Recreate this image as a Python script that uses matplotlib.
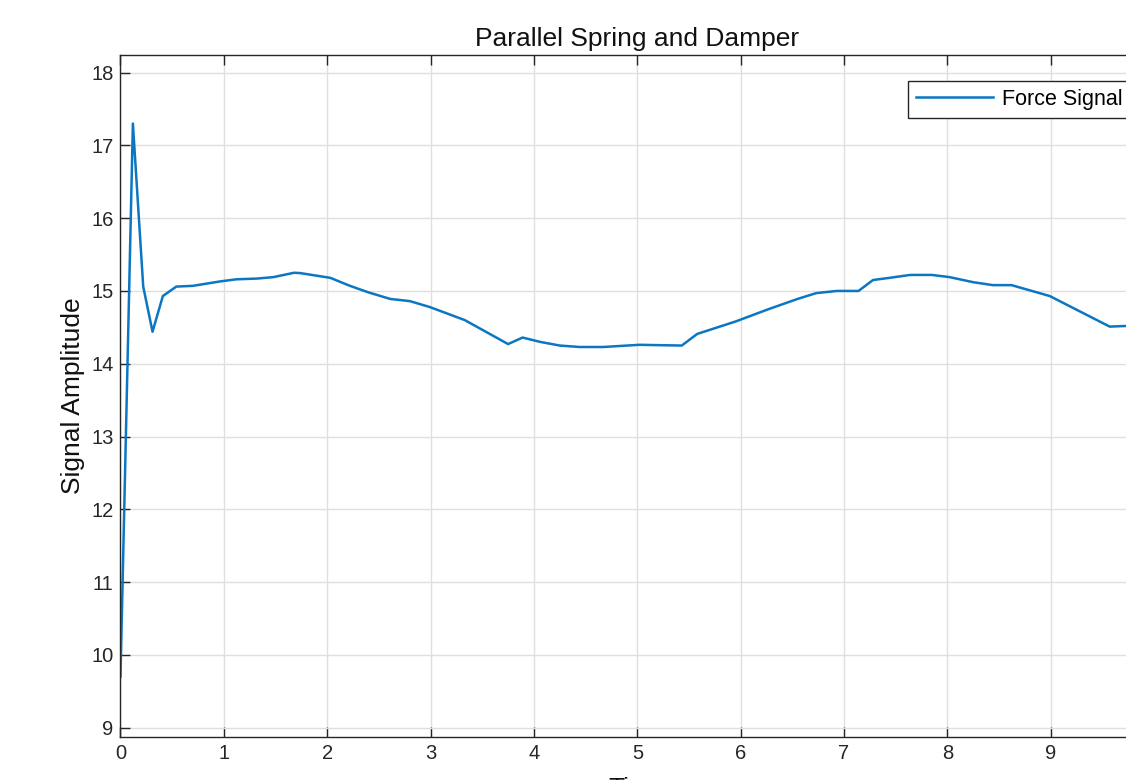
import matplotlib
matplotlib.use("Agg")
import matplotlib.pyplot as plt

# force signal (time, amplitude)
time = [0.0, 0.12, 0.22, 0.31, 0.41, 0.54, 0.70, 0.96, 1.12, 1.32, 1.48,
        1.68, 1.74, 2.03, 2.22, 2.40, 2.61, 2.80, 2.99, 3.33, 3.75, 3.89,
        4.06, 4.25, 4.44, 4.67, 5.02, 5.43, 5.58, 5.95, 6.27, 6.55, 6.73,
        6.93, 7.14, 7.28, 7.44, 7.64, 7.85, 8.02, 8.25, 8.44, 8.62, 8.99,
        9.28, 9.57, 9.75]
force = [9.70, 17.30, 15.06, 14.44, 14.93, 15.06, 15.07, 15.13, 15.16, 15.17, 15.19,
         15.25, 15.245, 15.18, 15.07, 14.98, 14.89, 14.86, 14.78, 14.60, 14.27, 14.36,
         14.30, 14.25, 14.23, 14.23, 14.26, 14.25, 14.41, 14.58, 14.75, 14.89, 14.97,
         15.00, 15.00, 15.15, 15.18, 15.22, 15.22, 15.19, 15.12, 15.08, 15.08, 14.93,
         14.72, 14.51, 14.52]
xticks = list(range(0, 11))
yticks = list(range(9, 19))

plt.rcParams["font.family"] = ["Liberation Sans", "DejaVu Sans"]
dark = "#262626"

fig = plt.figure(figsize=(11.26, 7.8), dpi=100)
# axes runs past the right edge of the picture, as in the cropped reference
ax = fig.add_axes([0.107, 0.0555, 0.918, 0.8745])

ax.plot(time, force, color="#0b76c2", lw=1.8, label="Force Signal")

ax.set_xlim(0, 10)
ax.set_ylim(8.876, 18.247)
ax.set_xticks(xticks)
ax.set_yticks(yticks)
ax.grid(True, color="#dfdfdf", lw=1.0)
ax.set_axisbelow(True)
ax.tick_params(direction="in", length=7.5, width=1.0, colors=dark,
               labelsize=14.5, pad=5, top=True, right=True)
for sp in ax.spines.values():
    sp.set_color(dark)
    sp.set_linewidth(1.0)

ax.set_title("Parallel Spring and Damper", fontsize=19, color="#111111", pad=6)
ax.set_ylabel("Signal Amplitude", fontsize=19, color="#111111")
ax.yaxis.set_label_coords(-0.034, 0.5)
ax.set_xlabel("Time", fontsize=19, color="#111111")
ax.xaxis.set_label_coords(0.5, -0.059)

leg = ax.legend(loc="upper left", bbox_to_anchor=(908 / 1126, 1 - 81 / 780),
                bbox_transform=fig.transFigure, fontsize=15.5, frameon=True,
                fancybox=False, framealpha=1, edgecolor=dark, borderpad=0.36,
                handlelength=3.6, handletextpad=0.4, borderaxespad=0)
leg.get_frame().set_linewidth(1.0)

fig.savefig("out.png", dpi=100)
